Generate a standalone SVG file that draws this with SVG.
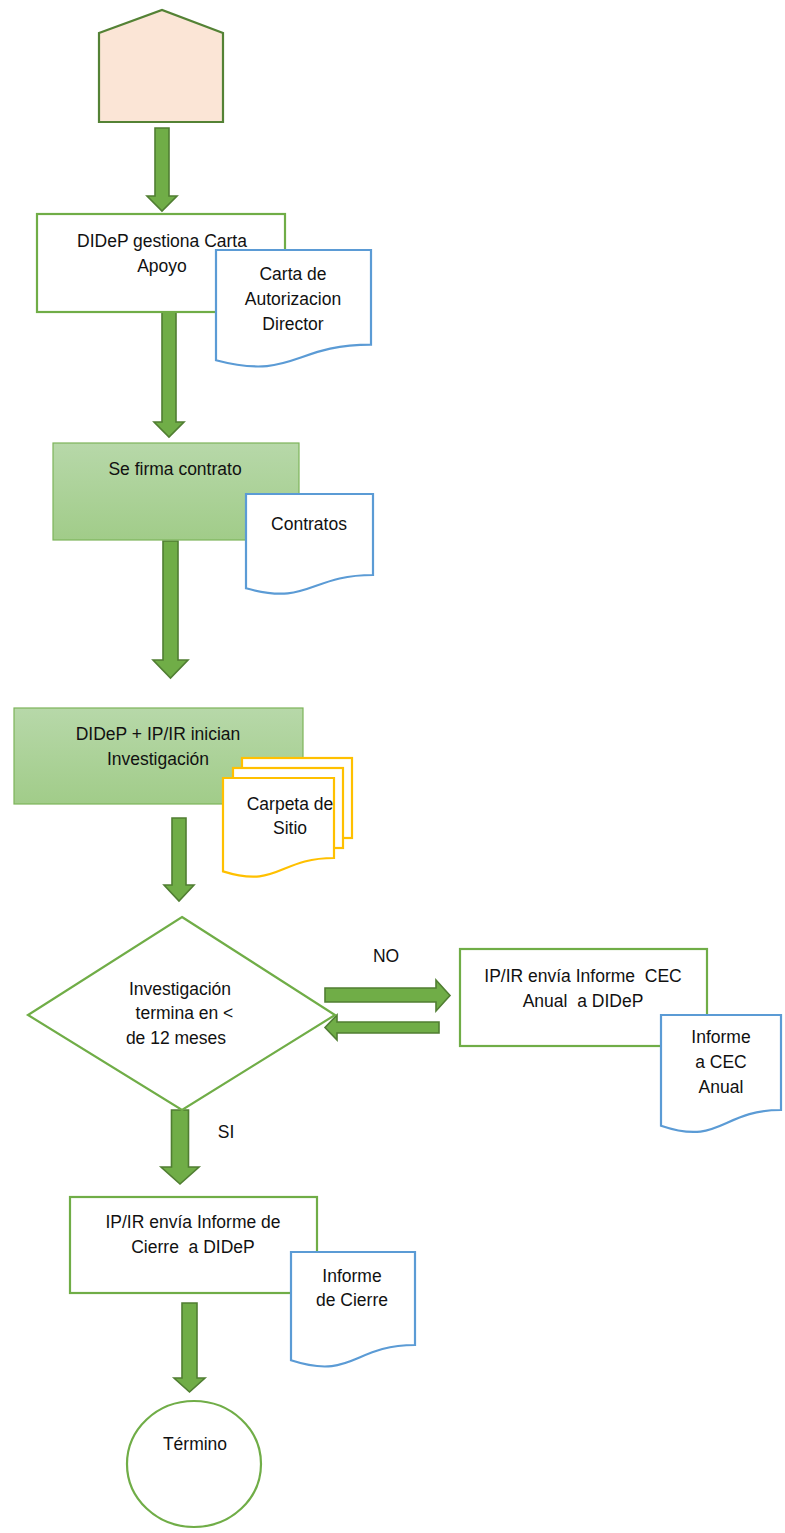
<svg xmlns="http://www.w3.org/2000/svg" width="785" height="1533" viewBox="0 0 785 1533">
<style>
.t{font-family:"Liberation Sans",Arial,sans-serif;font-size:17.5px;fill:#111;text-anchor:middle;white-space:pre}
.box{fill:#fff;stroke:#70AD47;stroke-width:2.2}
.gbox{fill:url(#g);stroke:#7DB45A;stroke-width:1.2}
.doc{fill:#fff;stroke:#5B9BD5;stroke-width:2.2}
.ydoc{fill:#fff;stroke:#FFC000;stroke-width:2.2}
.arr{fill:#70AD47;stroke:#507E32;stroke-width:1.6;stroke-linejoin:miter}
</style>
<defs>
<linearGradient id="g" x1="0" y1="0" x2="0" y2="1">
<stop offset="0" stop-color="#B7D8A9"/>
<stop offset="1" stop-color="#A1CC89"/>
</linearGradient>
</defs>
<rect width="785" height="1533" fill="#fff"/>

<g id="connectors">
<path class="arr" d="M155,128 H169 V196 H177 L162,211 L147,196 H155 Z"/>
<path class="arr" d="M162,312 H176 V422 H184 L169,437 L154,422 H162 Z"/>
<path class="arr" d="M163,541 H178 V660 H188 L170.5,678 L153,660 H163 Z"/>
<path class="arr" d="M172,818 H186 V885 H194 L179,901 L164,885 H172 Z"/>
<path class="arr" d="M325,988 H436 V980 L450,995.5 L436,1011 V1002 H325 Z"/>
<path class="arr" d="M439,1022 H337 V1015 L325,1027.5 L337,1040 V1033 H439 Z"/>
<path class="arr" d="M171.5,1110 H188.5 V1167 H199 L180,1184 L161,1167 H171.5 Z"/>
<path class="arr" d="M182,1303 H197 V1378 H205 L189.5,1392 L174,1378 H182 Z"/>
</g>

<g id="start">
<polygon points="99,33 162,10 223,33 223,122 99,122" fill="#FBE5D6" stroke="#548235" stroke-width="2.2"/>
</g>

<g id="n1">
<rect class="box" x="37" y="214" width="248" height="98"/>
<text class="t" x="162" y="247">DIDeP gestiona Carta</text>
<text class="t" x="162" y="272">Apoyo</text>
</g>
<g id="d1">
<path class="doc" d="M216,250 H371 V344.6 C293.5,344.6 293.5,380.7 216,360.2 Z"/>
<text class="t" x="293" y="280">Carta de</text>
<text class="t" x="293" y="305">Autorizacion</text>
<text class="t" x="293" y="330">Director</text>
</g>

<g id="n2">
<rect class="gbox" x="53" y="443" width="246" height="97"/>
<text class="t" x="175" y="475">Se firma contrato</text>
</g>
<g id="d2">
<path class="doc" d="M246,494 H373 V575 C309.5,575 309.5,605.9 246,588.3 Z"/>
<text class="t" x="309" y="530">Contratos</text>
</g>

<g id="n3">
<rect class="gbox" x="14" y="708" width="289" height="96"/>
<text class="t" x="158" y="740">DIDeP + IP/IR inician</text>
<text class="t" x="158" y="765">Investigación</text>
</g>
<g id="d3">
<rect class="ydoc" x="242" y="758" width="110" height="80"/>
<rect class="ydoc" x="233" y="768" width="110" height="80"/>
<path class="ydoc" d="M223,778 H334 V858 C278.5,858 278.5,888.8 223,871.4 Z"/>
<text class="t" x="290" y="810">Carpeta de</text>
<text class="t" x="290" y="834">Sitio</text>
</g>

<g id="decision">
<polygon class="box" points="182,917 335,1015 182,1110 28,1015"/>
<text class="t" x="180" y="995">Investigación</text>
<text class="t" x="182" y="1019"> termina en &lt;</text>
<text class="t" x="176" y="1044">de 12 meses</text>
</g>

<g id="labels">
<text class="t" x="386" y="962">NO</text>
<text class="t" x="226" y="1138">SI</text>
</g>

<g id="n4">
<rect class="box" x="460" y="949" width="247" height="97"/>
<text class="t" x="583" y="982">IP/IR envía Informe  CEC</text>
<text class="t" x="583" y="1007">Anual  a DIDeP</text>
</g>
<g id="d4">
<path class="doc" d="M661,1015 H781 V1110 C721,1110 721,1146.2 661,1125.7 Z"/>
<text class="t" x="721" y="1043">Informe</text>
<text class="t" x="721" y="1068">a CEC</text>
<text class="t" x="721" y="1093">Anual</text>
</g>

<g id="n5">
<rect class="box" x="70" y="1197" width="247" height="96"/>
<text class="t" x="193" y="1228">IP/IR envía Informe de</text>
<text class="t" x="193" y="1253">Cierre  a DIDeP</text>
</g>
<g id="d5">
<path class="doc" d="M291,1252 H415 V1345 C353,1345 353,1380.5 291,1360.3 Z"/>
<text class="t" x="352" y="1282">Informe</text>
<text class="t" x="352" y="1306">de Cierre</text>
</g>

<g id="end">
<ellipse class="box" cx="194" cy="1464" rx="67" ry="63"/>
<text class="t" x="195" y="1450">Término</text>
</g>
</svg>
